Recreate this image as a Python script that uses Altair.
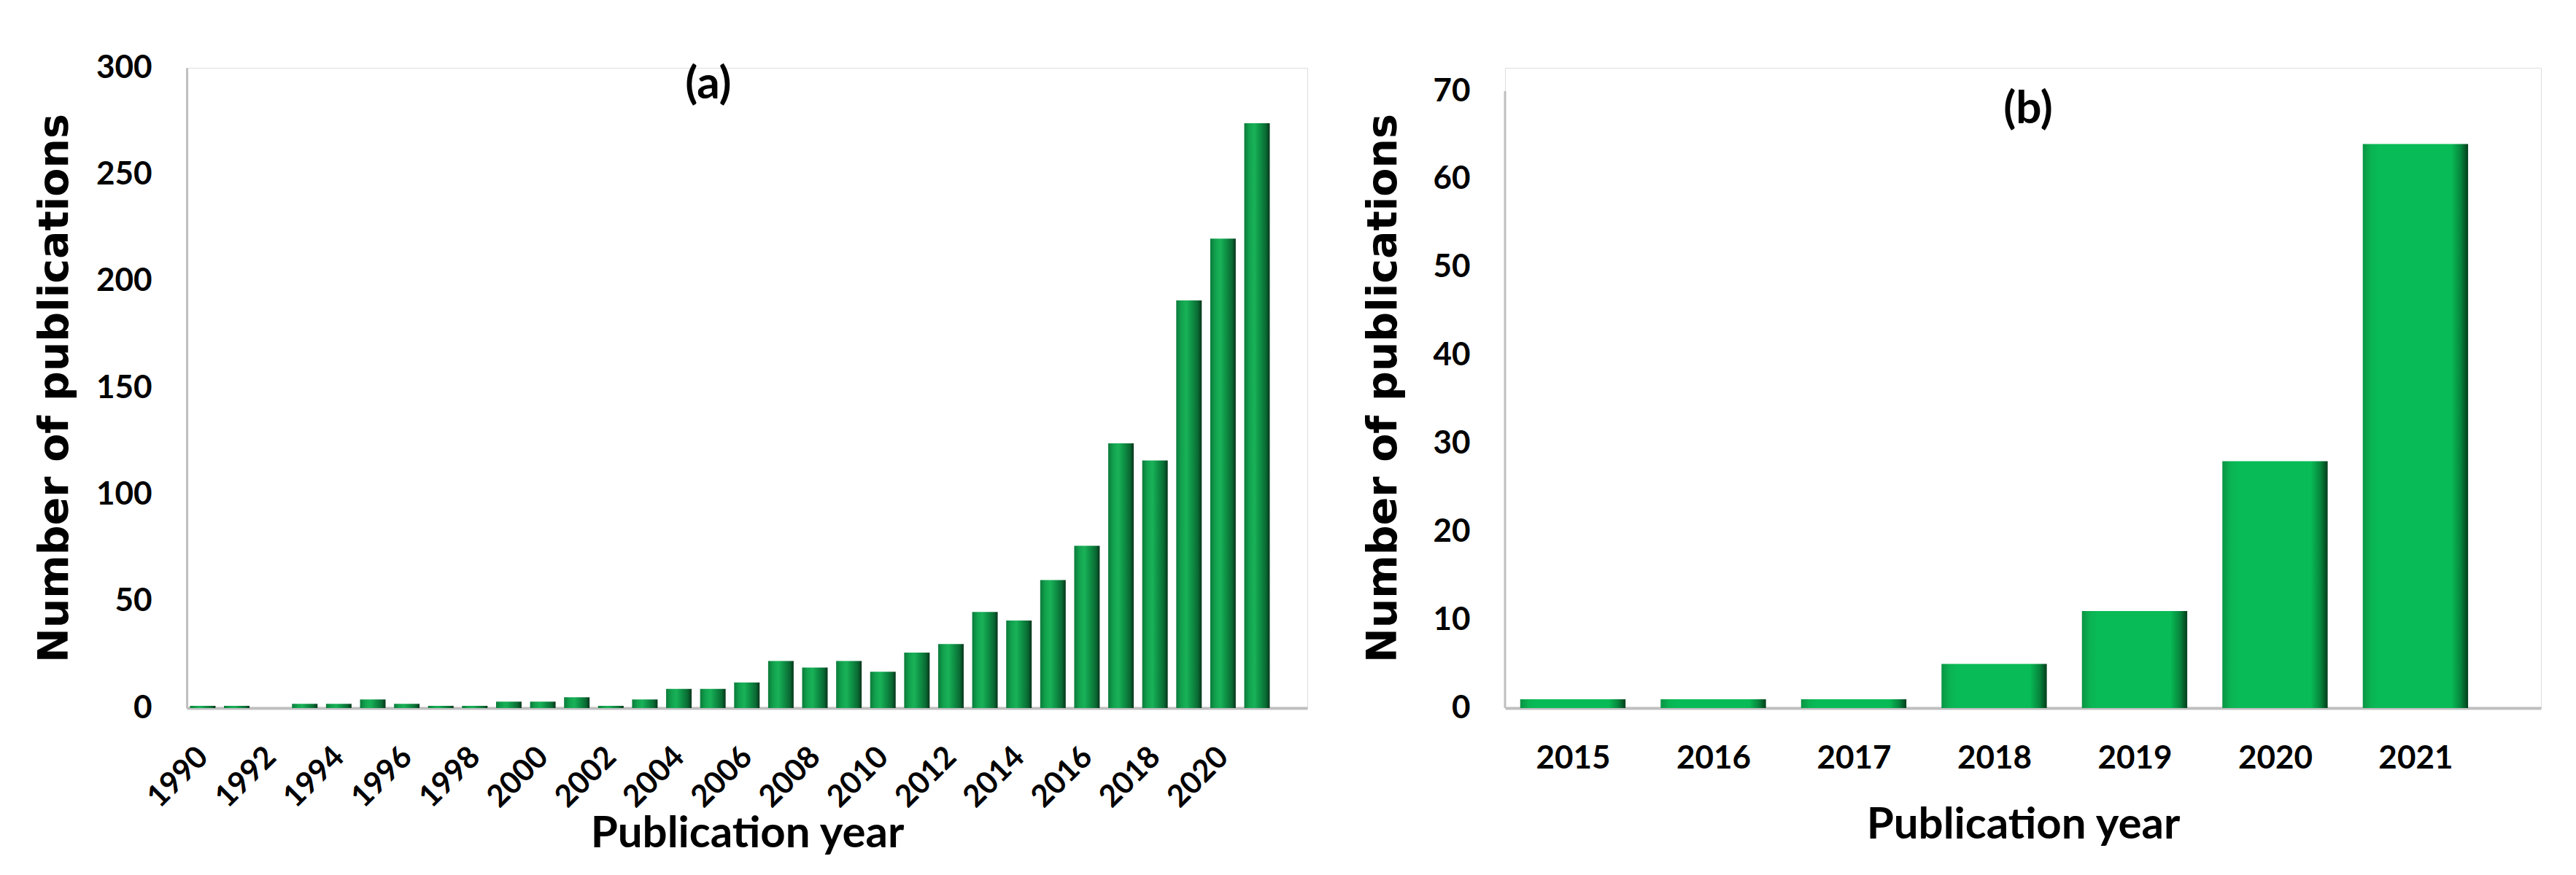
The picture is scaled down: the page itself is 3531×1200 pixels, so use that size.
import altair as alt
import pandas as pd

years_a = list(range(1990, 2022))
counts_a = [1, 1, 0, 2, 2, 4, 2, 1, 1, 3, 3, 5, 1, 4, 9, 9, 12, 22, 19, 22, 17,
            26, 30, 45, 41, 60, 76, 124, 116, 191, 220, 274]
ticks_a = list(range(1990, 2021, 2))

years_b = [2015, 2016, 2017, 2018, 2019, 2020, 2021]
counts_b = [1, 1, 1, 5, 11, 28, 64]

df_a = pd.DataFrame({"year": years_a, "count": counts_a})
df_b = pd.DataFrame({"year": years_b, "count": counts_b})

NARROW = "Lato, Liberation Sans, sans-serif"
WIDE = "DejaVu Sans, Verdana, sans-serif"
GREY = "#bfbfbf"

grad_a = alt.Gradient(
    gradient="linear", x1=0, x2=1, y1=0, y2=0,
    stops=[
        alt.GradientStop(offset=0.0, color="#0b7a3a"),
        alt.GradientStop(offset=0.2, color="#12a24e"),
        alt.GradientStop(offset=0.4, color="#19b258"),
        alt.GradientStop(offset=0.6, color="#0f9347"),
        alt.GradientStop(offset=0.85, color="#0a6a33"),
        alt.GradientStop(offset=1.0, color="#05351a"),
    ],
)
grad_b = alt.Gradient(
    gradient="linear", x1=0, x2=1, y1=0, y2=0,
    stops=[
        alt.GradientStop(offset=0.0, color="#0a9444"),
        alt.GradientStop(offset=0.08, color="#0bb352"),
        alt.GradientStop(offset=0.15, color="#08bb56"),
        alt.GradientStop(offset=0.84, color="#08bb56"),
        alt.GradientStop(offset=0.93, color="#07863d"),
        alt.GradientStop(offset=1.0, color="#033d1b"),
    ],
)

def x_axis(values, angle, title_pad, label_pad, label_size):
    return alt.Axis(
        values=values, format="d", labelAngle=angle,
        labelAlign="right" if angle else "center",
        labelBaseline="middle" if angle else "top",
        labelFont=NARROW, labelFontSize=label_size, labelFontWeight="bold", labelColor="black",
        labelPadding=label_pad, ticks=False, grid=False,
        domainColor=GREY, domainWidth=4,
        title="Publication year", titleFont=NARROW, titleFontSize=60,
        titleFontWeight="bold", titleColor="black", titlePadding=title_pad,
        labelOverlap=False, labelFlush=False,
    )

def y_axis(values, title_pad, domain=True):
    return alt.Axis(
        values=values, labelFont=NARROW, labelFontSize=44, labelFontWeight="bold",
        labelColor="black", labelPadding=48, ticks=False, grid=False,
        domain=domain, domainColor=GREY, domainWidth=3,
        title="Number of publications", titleFont=WIDE, titleFontSize=57,
        titleFontWeight="bold", titleColor="black", titlePadding=title_pad,
    )

bars_a = alt.Chart(df_a).transform_calculate(
    x0="datum.year - 0.375", x1="datum.year + 0.375"
).mark_bar(color=grad_a).encode(
    x=alt.X("x0:Q", scale=alt.Scale(domain=[1989.53, 2022.48], nice=False, zero=False),
            axis=x_axis(ticks_a, -45, 0, 60, 42)),
    x2="x1:Q",
    y=alt.Y("count:Q", scale=alt.Scale(domain=[0, 300], nice=False),
            axis=y_axis(list(range(0, 301, 50)), 27)),
    y2=alt.datum(0),
)
label_a = alt.Chart(pd.DataFrame({"t": ["(a)"]})).mark_text(
    font=NARROW, fontSize=62, fontWeight="bold", color="black"
).encode(text="t:N", x=alt.value(715), y=alt.value(23))
chart_a = alt.layer(bars_a, label_a).properties(width=1536, height=878)

ymax_b = 70 * 878 / 846
bars_b = alt.Chart(df_b).transform_calculate(
    x0="datum.year - 0.375", x1="datum.year + 0.375"
).mark_bar(color=grad_b).encode(
    x=alt.X("x0:Q", scale=alt.Scale(domain=[2014.517, 2021.894], nice=False, zero=False),
            axis=x_axis(years_b, 0, 40, 47, 44)),
    x2="x1:Q",
    y=alt.Y("count:Q", scale=alt.Scale(domain=[0, ymax_b], nice=False),
            axis=y_axis(list(range(0, 71, 10)), 38, domain=False)),
    y2=alt.datum(0),
)
axis_line_b = alt.Chart(pd.DataFrame({"lo": [0], "hi": [70]})).mark_rule(
    color=GREY, strokeWidth=3
).encode(x=alt.value(0), y=alt.Y("lo:Q"), y2="hi:Q")
label_b = alt.Chart(pd.DataFrame({"t": ["(b)"]})).mark_text(
    font=NARROW, fontSize=62, fontWeight="bold", color="black"
).encode(text="t:N", x=alt.value(717), y=alt.value(57))
chart_b = alt.layer(bars_b, axis_line_b, label_b).properties(width=1420, height=878)

chart = alt.hconcat(chart_a, chart_b, spacing=74).properties(
    padding={"left": 37, "top": 62, "right": 5, "bottom": 5}
).configure_view(stroke=None).configure(background="white")

chart.save("out.html", embed_options={"renderer": "svg", "actions": False})
